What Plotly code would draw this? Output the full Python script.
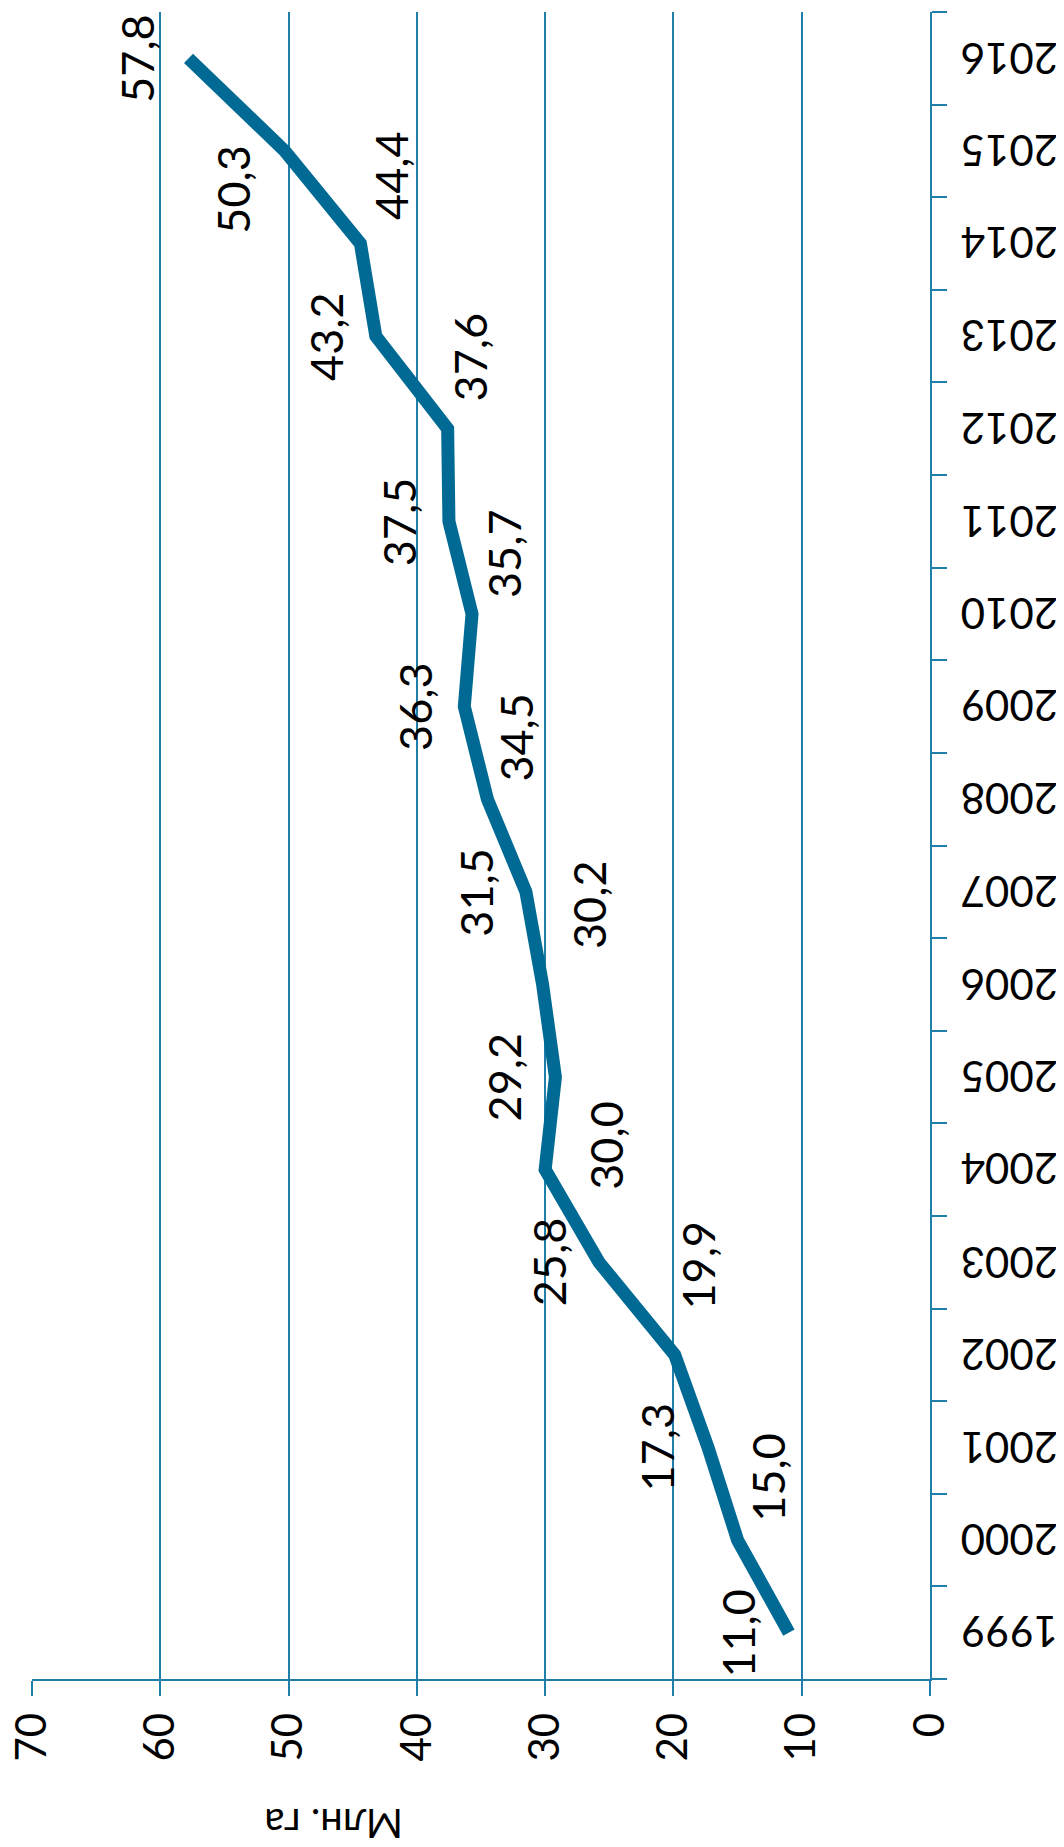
import plotly.graph_objects as go

years = [str(y) for y in range(1999, 2017)]
values = [11.0, 15.0, 17.3, 19.9, 25.8, 30.0, 29.2, 30.2, 31.5, 34.5,
          36.3, 35.7, 37.5, 37.6, 43.2, 44.4, 50.3, 57.8]
value_ticks = [0, 10, 20, 30, 40, 50, 60, 70]
axis_title = "Млн. га"

# label offsets in pixels (x, y) relative to the data point
label_shifts = [(-51, 0), (31, 63), (-51, 0), (23, 90), (-50, 0), (60, 24),
                (-51, 0), (47, 80), (-50, 0), (29, 62), (-50, 0), (32, 60),
                (-50, 0), (22, 72), (-50, 0), (30, 68), (-52, -38), (-51, 0)]

BLUE = "#006a94"
GRID = "#1f7eaa"
FONT = "Lato"

# the browser page adds an 8px body margin; compensate so the plot lands
# at the same page position as the reference
OFF = 8
PW, PH = 1064, 1847                     # page size
W, H = PW - OFF, PH - OFF               # figure size
L, R, T, B = 32 - OFF, 930 - OFF, 12 - OFF, 1679 - OFF   # plot area (figure px)

fig = go.Figure()
fig.add_trace(go.Scatter(
    x=values, y=years, mode="lines",
    line=dict(color=BLUE, width=13),
    hoverinfo="skip", showlegend=False,
))

# data labels (y uses category index)
for i, (v, (dx, dy)) in enumerate(zip(values, label_shifts)):
    fig.add_annotation(
        x=v, y=i, xref="x", yref="y",
        text=f"{v:.1f}".replace(".", ","),
        showarrow=False, textangle=-90,
        xanchor="center", yanchor="middle",
        xshift=dx, yshift=dy,
        font=dict(family=FONT, size=45, color="black"),
    )

# year labels, upside down on the right of the axis
for i, yr in enumerate(years):
    fig.add_annotation(
        x=1, y=i, xref="paper", yref="y", text=yr,
        showarrow=False, textangle=180,
        xanchor="center", yanchor="middle", xshift=80,
        font=dict(family=FONT, size=42, color="black"),
    )

# axis title (upside down)
fig.add_annotation(
    x=(334 - OFF - L) / (R - L), y=(B - (1824 - OFF)) / (B - T),
    xref="paper", yref="paper", text=axis_title,
    showarrow=False, textangle=180,
    xanchor="center", yanchor="middle",
    font=dict(family=FONT, size=40, color="black"),
)

fig.update_layout(
    width=W, height=H,
    margin=dict(l=L, r=W - R, t=T, b=H - B, autoexpand=False),
    paper_bgcolor="white", plot_bgcolor="white",
    font=dict(family=FONT, color="black"),
    xaxis=dict(
        range=[70.0001, 0], tickvals=value_ticks, ticktext=[str(t) for t in value_ticks],
        showgrid=True, gridcolor=GRID, gridwidth=2,
        zeroline=False, showline=True, linecolor=GRID, linewidth=2,
        ticks="outside", ticklen=15, tickcolor=GRID, tickwidth=2,
        tickangle=-90, tickfont=dict(family=FONT, size=42, color="black"),
        ticklabeloverflow="allow",
        automargin=False,
    ),
    yaxis=dict(
        type="category", categoryorder="array", categoryarray=years,
        range=[-0.5, 17.5], side="right",
        showgrid=False, zeroline=False, showline=True, linecolor=GRID, linewidth=2,
        ticks="outside", ticklen=15, tickcolor=GRID, tickwidth=2,
        tickson="boundaries", showticklabels=False,
        automargin=False,
    ),
)

fig.write_html("out.html")
